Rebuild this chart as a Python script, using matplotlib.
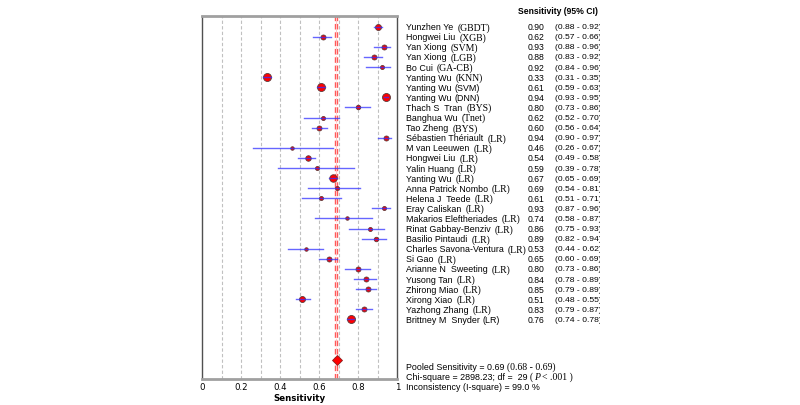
import numpy as np
import matplotlib
matplotlib.use('Agg')
import matplotlib.pyplot as plt
from matplotlib import transforms
from matplotlib.transforms import Bbox

# study data
authors = ['Yunzhen Ye', 'Hongwei Liu', 'Yan Xiong', 'Yan Xiong', 'Bo Cui',
           'Yanting Wu', 'Yanting Wu', 'Yanting Wu', 'Thach S  Tran', 'Banghua Wu',
           'Tao Zheng', 'Sébastien Thériault', 'M van Leeuwen', 'Hongwei Liu', 'Yalin Huang',
           'Yanting Wu', 'Anna Patrick Nombo', 'Helena J  Teede', 'Eray Caliskan',
           'Makarios Eleftheriades', 'Rinat Gabbay-Benziv', 'Basilio Pintaudi',
           'Charles Savona-Ventura', 'Si Gao', 'Arianne N  Sweeting', 'Yusong Tan',
           'Zhirong Miao', 'Xirong Xiao', 'Yazhong Zhang', 'Brittney M  Snyder']
methods = ['(GBDT)', '(XGB)', '(SVM)', '(LGB)', '(GA-CB)', '(KNN)', '(SVM)', '(DNN)',
           '(BYS)', '(Tnet)', '(BYS)'] + ['(LR)'] * 19
sens = [0.90, 0.62, 0.93, 0.88, 0.92, 0.33, 0.61, 0.94, 0.80, 0.62,
        0.60, 0.94, 0.46, 0.54, 0.59, 0.67, 0.69, 0.61, 0.93, 0.74,
        0.86, 0.89, 0.53, 0.65, 0.80, 0.84, 0.85, 0.51, 0.83, 0.76]
ci_lo = [0.88, 0.57, 0.88, 0.83, 0.84, 0.31, 0.59, 0.93, 0.73, 0.52,
         0.56, 0.90, 0.26, 0.49, 0.39, 0.65, 0.54, 0.51, 0.87, 0.58,
         0.75, 0.82, 0.44, 0.60, 0.73, 0.78, 0.79, 0.48, 0.79, 0.74]
ci_hi = [0.92, 0.66, 0.96, 0.92, 0.96, 0.35, 0.63, 0.95, 0.86, 0.70,
         0.64, 0.97, 0.67, 0.58, 0.78, 0.69, 0.81, 0.71, 0.96, 0.87,
         0.93, 0.94, 0.62, 0.69, 0.86, 0.89, 0.89, 0.55, 0.87, 0.78]
# relative study weights (marker diameter in px)
weights = [6, 5, 5, 5, 4, 8, 8, 8, 4.5, 4,
           5, 5, 3.5, 5.5, 4, 7.5, 4, 4, 4, 3.5,
           4, 4.5, 3.5, 5, 5, 5, 5, 6, 5, 8]
pooled = 0.69
pooled_lo, pooled_hi = 0.68, 0.69

sans_tags = {6, 7, 29}   # these labels are printed fully in sans

fig = plt.figure(figsize=(8, 4.05), dpi=100)
W, H = 800, 405
ax = fig.add_axes([202.3 / W, 1 - 379 / H, 195 / W, 363 / H])

n = len(sens)
rows = np.arange(n)
pooled_row = 33

# grid
for g in np.arange(0.1, 1.0, 0.1):
    ax.axvline(g, color='#c0c0c0', lw=0.8, ls=(0, (3, 2)), zorder=0)

# pooled lines
ax.axvline(pooled_lo, color='#ff5a5a', lw=1.0, ls=(0, (4, 2)), zorder=1)
ax.axvline(pooled_hi, color='#ff5a5a', lw=1.0, ls=(0, (4, 2)), zorder=1)
ax.axvline((pooled_lo + pooled_hi) / 2, color='#ffc0c0', lw=0.6, ls='-.', zorder=1)

for i in rows:
    ax.plot(sens[i], i, 'o', ms=weights[i] * 0.72, mfc='red', mec='#5a3a3a',
            mew=0.6, zorder=3)
    ax.plot([ci_lo[i], ci_hi[i]], [i, i], color='#3333ff', lw=1.0, alpha=0.75, zorder=4)

ax.plot(pooled, pooled_row, 'D', ms=5.5, mfc='red', mec='#8a2020', mew=0.6, zorder=3)

ax.set_xlim(0, 1)
ax.set_ylim(34.9, -1.06)
ax.set_yticks([])
ax.set_xticks([0, 0.2, 0.4, 0.6, 0.8, 1.0])
ax.set_xticklabels(['0', '0.2', '0.4', '0.6', '0.8', '1'])
ax.tick_params(axis='x', length=0, labelsize=6.2, pad=3)
ax.set_xlabel('Sensitivity', fontsize=6.2, fontweight='bold', labelpad=1)
for side in ['top', 'bottom']:
    ax.spines[side].set_color('#a0a0a0')
    ax.spines[side].set_linewidth(2)
for side in ['left', 'right']:
    ax.spines[side].set_color('#505050')
    ax.spines[side].set_linewidth(1)

sans = 'Liberation Sans'
serif = 'Liberation Serif'
fs = 6.4
clip = Bbox([[0, 0], [600, H]])
trans = transforms.blended_transform_factory(fig.transFigure, ax.transData)

fig.canvas.draw()
renderer = fig.canvas.get_renderer()


def put_segments(x, y, segs, transform):
    # draw text pieces one after another on a line
    xp = x
    for s, fam, size, style, gap in segs:
        xp += gap / W
        t = fig.text(xp, y, s, fontsize=size, family=fam, style=style,
                     va='center_baseline', ha='left', transform=transform)
        bb = t.get_window_extent(renderer)
        xp += bb.width / W


name_x = 406 / W
for i in rows:
    if i in sans_tags:
        segs = [(authors[i], sans, fs, 'normal', 0), (methods[i], sans, fs, 'normal', 3)]
    else:
        segs = [(authors[i], sans, fs, 'normal', 0), (methods[i], serif, 7, 'normal', 4)]
    put_segments(name_x, i, segs, trans)
    fig.text(528 / W, i, f'{sens[i]:.2f}', fontsize=6.2, family=sans,
             va='center_baseline', transform=trans)
    t = fig.text(555 / W, i, f'({ci_lo[i]:.2f} - {ci_hi[i]:.2f})', fontsize=6.1, family=sans,
                 va='center_baseline', transform=trans)
    t.set_clip_box(clip)
    t.set_clip_on(True)

fig.text(518 / W, 1 - 11 / H, 'Sensitivity (95% CI)', fontsize=6.2, fontweight='bold',
         family=sans, va='center')

put_segments(name_x, 1 - 366 / H,
             [(f'Pooled Sensitivity = {pooled:.2f}', sans, fs, 'normal', 0),
              (f'({pooled_lo:.2f} - {pooled_hi:.2f})', serif, 7, 'normal', 3)],
             fig.transFigure)
put_segments(name_x, 1 - 376 / H,
             [('Chi-square = 2898.23; df =  29', sans, fs, 'normal', 0),
              ('(', serif, 7, 'normal', 2),
              ('P', serif, 7, 'italic', 1),
              ('< .001 )', serif, 7, 'normal', 2)],
             fig.transFigure)
put_segments(name_x, 1 - 386 / H,
             [('Inconsistency (I-square) = 99.0 %', sans, fs, 'normal', 0)],
             fig.transFigure)

fig.savefig('out.png', dpi=100)
